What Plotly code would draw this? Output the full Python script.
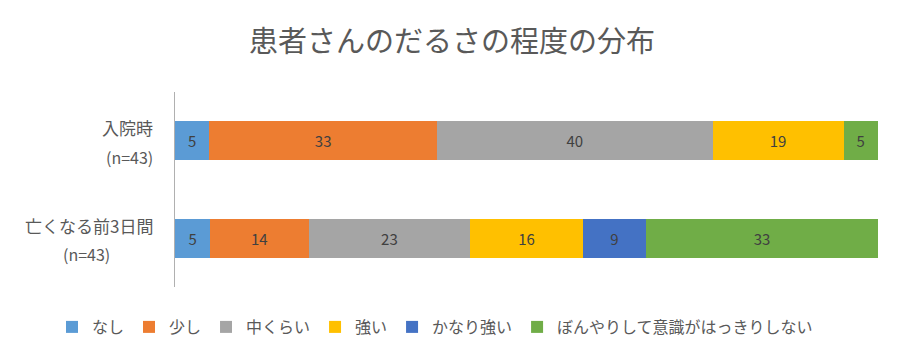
import plotly.graph_objects as go

categories = ["入院時", "亡くなる前3日間"]
n_labels = ["(n=43)", "(n=43)"]
series_names = ["なし", "少し", "中くらい", "強い", "かなり強い", "ぼんやりして意識がはっきりしない"]
values = {
    "なし": [5, 5],
    "少し": [33, 14],
    "中くらい": [40, 23],
    "強い": [19, 16],
    "かなり強い": [None, 9],
    "ぼんやりして意識がはっきりしない": [5, 33],
}
colors = ["#5B9BD5", "#ED7D31", "#A5A5A5", "#FFC000", "#4472C4", "#70AD47"]

FONT = "Noto Sans CJK JP"
TXT = "#595959"
OFF = 8  # page body margin offset

fig = go.Figure()
for name, col in zip(series_names, colors):
    v = values[name]
    fig.add_trace(go.Bar(
        y=categories, x=v, name=name, orientation="h",
        marker=dict(color=col, line=dict(width=0)),
        text=[str(t) if t is not None else "" for t in v],
        textposition="inside", insidetextanchor="middle",
        textfont=dict(color="#404040", size=15, family=FONT),
        width=0.4,
    ))

# two-line category labels (name right-aligned, n centred under name)
n_centres = [-46, -89]
for cat, nl, nc in zip(categories, n_labels, n_centres):
    fig.add_annotation(x=0, xref="paper", y=cat, yref="y", text=cat,
                       xanchor="right", yanchor="middle", xshift=-20, yshift=13,
                       showarrow=False, font=dict(size=17, color=TXT, family=FONT))
    fig.add_annotation(x=0, xref="paper", y=cat, yref="y", text=nl,
                       xanchor="center", yanchor="middle", xshift=nc, yshift=-16,
                       showarrow=False, font=dict(size=16, color=TXT, family=FONT))

plot_left = 175 - OFF
plot_right = 878 - OFF
plot_top = 92 - OFF
plot_bot = 287 - OFF
pw = plot_right - plot_left
ph = plot_bot - plot_top
fig.update_layout(
    barmode="stack", barnorm="percent",
    width=900, height=360,
    margin=dict(l=plot_left, r=900 - plot_right, t=plot_top, b=360 - plot_bot,
                autoexpand=False),
    paper_bgcolor="white", plot_bgcolor="white",
    font=dict(family=FONT, color=TXT, size=14),
    title=dict(text="患者さんのだるさの程度の分布", x=(452 - OFF) / 900, xanchor="center",
               xref="container",
               y=1 - (42 - OFF) / 360, yref="container", yanchor="middle",
               font=dict(size=29, color=TXT, family=FONT)),
    legend=dict(orientation="h", xref="paper", x=((52 - OFF) - plot_left) / pw,
                xanchor="left",
                yref="paper", y=-((327 - OFF) - plot_bot) / ph,
                yanchor="middle",
                font=dict(size=16, color=TXT), traceorder="normal",
                itemwidth=30),
    uniformtext=dict(mode=False),
)
fig.update_xaxes(visible=False, range=[0, 100])
fig.update_yaxes(autorange="reversed", showline=True, linecolor="#B0B0B0", linewidth=1,
                 ticks="", showticklabels=False, showgrid=False)
fig.write_html("out.html")
